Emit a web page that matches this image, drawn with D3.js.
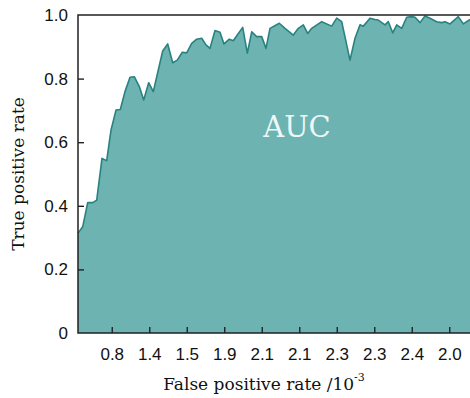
<!DOCTYPE html>
<html>
<head>
<meta charset="utf-8">
<script src="https://cdn.jsdelivr.net/npm/d3@7"></script>
<style>
  html, body { margin: 0; padding: 0; background: #fff; }
  svg { display: block; font-family: "DejaVu Serif", serif; }
</style>
</head>
<body>
<div id="chart"></div>
<script>
// x position along the axis (tick slots 1..10)
const xPos = [0.1, 0.225, 0.359, 0.492, 0.599, 0.74, 0.865, 0.98, 1.113, 1.228,
  1.353, 1.487, 1.601, 1.735, 1.852, 1.985, 2.108, 2.241, 2.359, 2.492,
  2.625, 2.748, 2.881, 2.999, 3.132, 3.265, 3.399, 3.513, 3.62, 3.753,
  3.887, 3.993, 4.135, 4.241, 4.375, 4.492, 4.615, 4.732, 4.865, 4.999,
  5.113, 5.22, 5.468, 5.62, 5.841, 5.975, 6.108, 6.225, 6.332, 6.599,
  6.865, 6.999, 7.132, 7.353, 7.487, 7.62, 7.708, 7.887, 8.02, 8.108,
  8.287, 8.375, 8.492, 8.599, 8.732, 8.865, 8.999, 9.087, 9.22, 9.353,
  9.487, 9.665, 9.799, 9.887, 10.02, 10.241, 10.375, 10.553];

// true positive rate
const tpr = [0.314, 0.334, 0.41, 0.41, 0.418, 0.549, 0.542, 0.638, 0.701, 0.703,
  0.759, 0.804, 0.806, 0.775, 0.733, 0.787, 0.759, 0.827, 0.887, 0.909,
  0.85, 0.858, 0.883, 0.881, 0.911, 0.924, 0.927, 0.906, 0.895, 0.951,
  0.946, 0.909, 0.924, 0.919, 0.942, 0.961, 0.88, 0.947, 0.932, 0.932,
  0.895, 0.958, 0.974, 0.958, 0.937, 0.958, 0.969, 0.942, 0.958, 0.979,
  0.965, 0.99, 0.979, 0.858, 0.927, 0.969, 0.965, 0.99, 0.986, 0.984,
  0.969, 0.979, 0.944, 0.969, 0.958, 0.993, 0.995, 0.993, 0.976, 0.997,
  0.99, 0.979, 0.976, 0.979, 0.972, 0.995, 0.972, 0.986];

const xTickLabels = ['0.8', '1.4', '1.5', '1.9', '2.1', '2.1', '2.3', '2.3', '2.4', '2.0'];
const yTicks = [0, 0.2, 0.4, 0.6, 0.8, 1.0];

const W = 470, H = 398;
const margin = { top: 15, right: 0, bottom: 65, left: 78 };
const width = W - margin.left - margin.right;
const height = H - margin.top - margin.bottom;

const data = xPos.map((x, i) => ({ x: x, y: tpr[i] }));

const svg = d3.select('#chart').append('svg')
  .attr('width', W)
  .attr('height', H);

const g = svg.append('g')
  .attr('transform', `translate(${margin.left},${margin.top})`);

const x = d3.scaleLinear().domain([0.1, 10.553]).range([0, width]);
const y = d3.scaleLinear().domain([0, 1]).range([height, 0]);

// --- Area ---
g.append('path')
  .datum(data)
  .attr('fill', '#6cb3b1')
  .attr('stroke', 'none')
  .attr('d', d3.area().x(d => x(d.x)).y0(height).y1(d => y(d.y)));

g.append('path')
  .datum(data)
  .attr('fill', 'none')
  .attr('stroke', '#2a8280')
  .attr('stroke-width', 1.6)
  .attr('stroke-linejoin', 'round')
  .attr('d', d3.line().x(d => x(d.x)).y(d => y(d.y)));

// --- Axes ---
const yAxis = g.append('g')
  .call(d3.axisLeft(y).tickValues(yTicks)
    .tickFormat(d => d === 0 ? '0' : d3.format('.1f')(d))
    .tickSizeInner(-6).tickSizeOuter(0).tickPadding(10));
yAxis.select('.domain').remove();
yAxis.selectAll('.tick line')
  .attr('stroke', '#222').attr('stroke-width', 1.4)
  .style('display', d => (d === 0 || d === 1) ? 'none' : null);
yAxis.selectAll('text').style('font-size', '17px').attr('fill', '#111');

const xAxis = g.append('g')
  .attr('transform', `translate(0,${height})`)
  .call(d3.axisBottom(x).tickValues(d3.range(1, 11))
    .tickFormat((d, i) => xTickLabels[i])
    .tickSizeInner(-6).tickSizeOuter(0).tickPadding(15));
xAxis.select('.domain').remove();
xAxis.selectAll('.tick line').attr('stroke', '#222').attr('stroke-width', 1.4);
xAxis.selectAll('text').style('font-size', '17px').attr('fill', '#111');

// frame (left, top, bottom)
g.append('path')
  .attr('fill', 'none')
  .attr('stroke', '#222')
  .attr('stroke-width', 1.5)
  .attr('d', `M${width},0H0V${height}H${width}`);

// --- Labels ---
g.append('text')
  .attr('x', x(5.94))
  .attr('y', y(0.616))
  .attr('text-anchor', 'middle')
  .attr('fill', '#eef7f7')
  .style('font-size', '29px')
  .text('AUC');

const xl = svg.append('text')
  .attr('x', 264)
  .attr('y', 390)
  .attr('text-anchor', 'middle')
  .attr('fill', '#111')
  .style('font-size', '17px');
xl.append('tspan').text('False positive rate /10');
xl.append('tspan').attr('dy', -9).style('font-size', '11px').text('-3');

svg.append('text')
  .attr('transform', `translate(24,${margin.top + height / 2}) rotate(-90)`)
  .attr('text-anchor', 'middle')
  .attr('fill', '#111')
  .style('font-size', '17px')
  .text('True positive rate');
</script>
</body>
</html>
